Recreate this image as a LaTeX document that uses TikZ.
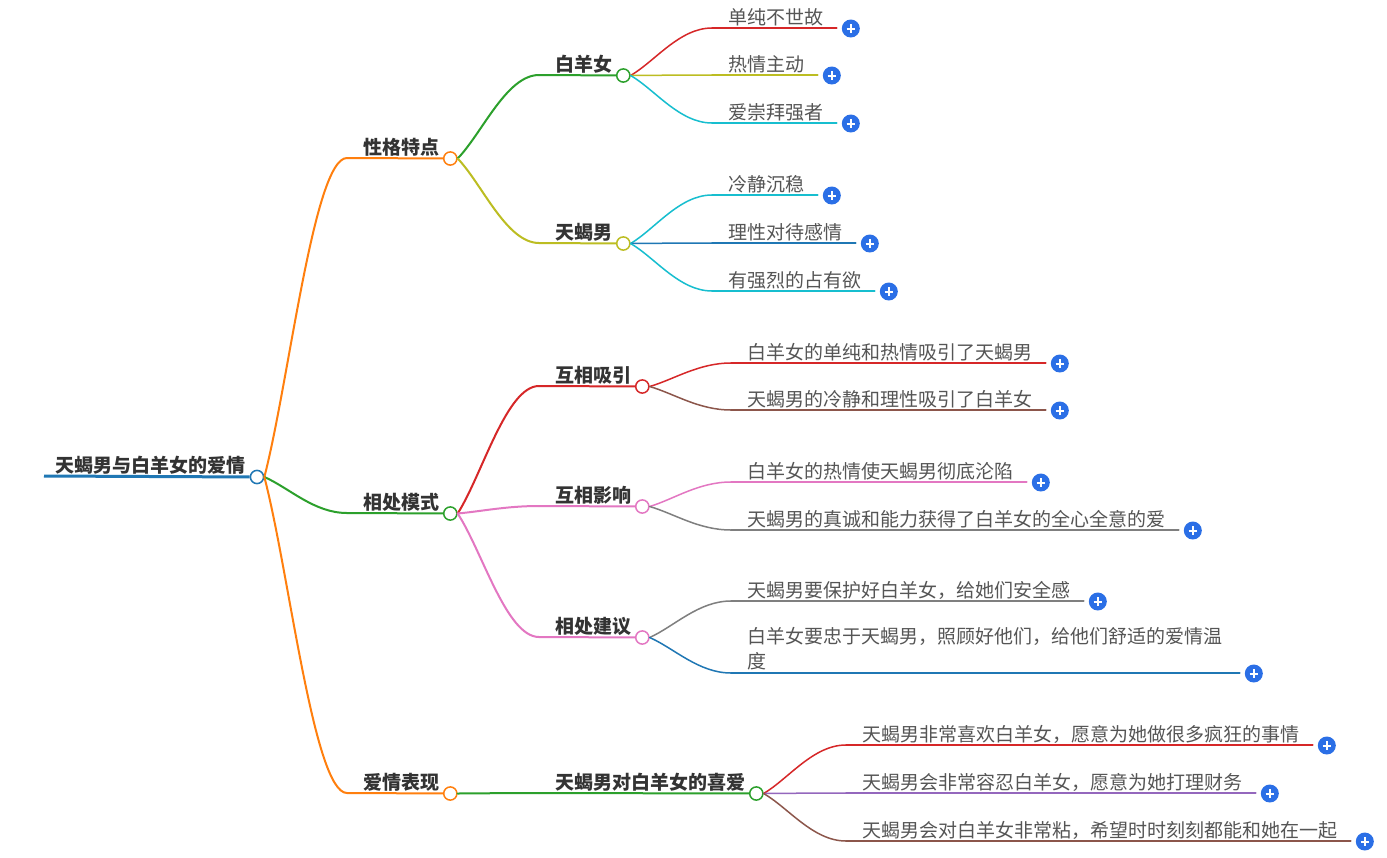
\documentclass[tikz,border=0pt]{standalone}
\usepackage{fontspec}
\setmainfont{Noto Sans CJK SC}
\usetikzlibrary{calc}
\definecolor{cblue}{HTML}{1F77B4}
\definecolor{corange}{HTML}{FF7F0E}
\definecolor{cgreen}{HTML}{2CA02C}
\definecolor{cred}{HTML}{D62728}
\definecolor{cpurple}{HTML}{9467BD}
\definecolor{cbrown}{HTML}{8C564B}
\definecolor{cpink}{HTML}{E377C2}
\definecolor{cgray}{HTML}{7F7F7F}
\definecolor{colive}{HTML}{BCBD22}
\definecolor{ccyan}{HTML}{17BECF}
\definecolor{plusblue}{HTML}{2B6FE6}
\definecolor{textdark}{HTML}{333333}
\definecolor{textgray}{HTML}{555555}
\tikzset{
  mmcurve/.style={to path={let \p1=(\tikztostart), \p2=(\tikztotarget) in
     .. controls ({\x1+0.3*(\x2-\x1)},{\y1+0.3*(\y2-\y1)}) and ({\x1+0.6*(\x2-\x1)},{\y2}) .. (\tikztotarget)}},
  conn/.style={line width=1pt, line cap=round},
  leafconn/.style={line width=0.75pt, line cap=round},
  lvtext/.style={font=\fontsize{9.5}{12}\selectfont\bfseries, text=textdark, inner sep=0pt, anchor=base west},
  leaftext/.style={font=\fontsize{9.5}{12.5}\selectfont, text=textgray, inner sep=0pt, anchor=base west, align=left},
  knob/.style={circle, fill=white, line width=0.75pt, minimum size=6.6pt, inner sep=0pt},
  plusdot/.style={circle, fill=plusblue, minimum size=9pt, inner sep=0pt},
  plusbar/.style={white, line width=1pt},
}
\newcommand\mmlevel[5]{%
  \coordinate (#2s) at (#3);
  \draw[conn,#4] (#1.east) to[mmcurve] (#2s);
  \node[lvtext] (#2t) at ($(#2s)+(16,-4)$) {#5};
  \node[knob,draw=#4] (#2) at ($(#2s -| #2t.east)+(10.5,0.5)$) {};
  \draw[conn,#4] (#2s) -- (#2);
}
\newcommand\mmleaf[5]{%
  \coordinate (#2s) at (#3);
  \draw[leafconn,#4] (#1.east) to[mmcurve] (#2s);
  \node[leaftext] (#2t) at ($(#2s)+(16,-4)$) {#5};
  \coordinate (#2e) at ($(#2s -| #2t.east)+(13,0)$);
  \draw[leafconn,#4] (#2s) -- (#2e);
  \node[plusdot] (#2p) at ($(#2e)+(14,0.5)$) {};
  \draw[plusbar] ($(#2p)+(-4.2,0)$) -- ($(#2p)+(4.2,0)$);
  \draw[plusbar] ($(#2p)+(0,-4.2)$) -- ($(#2p)+(0,4.2)$);
}
\begin{document}
\begin{tikzpicture}[x=0.5pt,y=-0.5pt]
\useasboundingbox[fill=white] (0,0) rectangle (1387,857);
% root
\coordinate (roots) at (44,476);
\node[lvtext] (roott) at (55,472) {天蝎男与白羊女的爱情};
\node[knob,draw=cblue] (root) at (257,477) {};
\draw[cblue, line width=1.5pt] (roots) -- (root);
% level 1
\mmlevel{root}{xg}{347,158}{corange}{性格特点}
\mmlevel{root}{xc}{347,513}{cgreen}{相处模式}
\mmlevel{root}{aq}{347,793}{corange}{爱情表现}
% level 2
\mmlevel{xg}{byn}{539,75}{cgreen}{白羊女}
\mmlevel{xg}{txn}{539,243}{colive}{天蝎男}
\mmlevel{xc}{xx}{539,386}{cred}{互相吸引}
\mmlevel{xc}{xy}{539,506}{cpink}{互相影响}
\mmlevel{xc}{jy}{539,637}{cpink}{相处建议}
\mmlevel{aq}{xa}{539,793}{cgreen}{天蝎男对白羊女的喜爱}
% leaves
\mmleaf{byn}{l1}{712,28}{cred}{单纯不世故}
\mmleaf{byn}{l2}{712,75}{colive}{热情主动}
\mmleaf{byn}{l3}{712,123}{ccyan}{爱崇拜强者}
\mmleaf{txn}{l4}{712,195}{ccyan}{冷静沉稳}
\mmleaf{txn}{l5}{712,243}{cblue}{理性对待感情}
\mmleaf{txn}{l6}{712,291}{ccyan}{有强烈的占有欲}
\mmleaf{xx}{l7}{731,363}{cred}{白羊女的单纯和热情吸引了天蝎男}
\mmleaf{xx}{l8}{731,410}{cbrown}{天蝎男的冷静和理性吸引了白羊女}
\mmleaf{xy}{l9}{731,482}{cpink}{白羊女的热情使天蝎男彻底沦陷}
\mmleaf{xy}{l10}{731,530}{cgray}{天蝎男的真诚和能力获得了白羊女的全心全意的爱}
\mmleaf{jy}{l11}{731,601}{cgray}{天蝎男要保护好白羊女，给她们安全感}
% multi-line leaf
\coordinate (l12s) at (731,673);
\draw[leafconn,cblue] (jy.east) to[mmcurve] (l12s);
\node[leaftext] (l12t) at ($(l12s)+(16,-5)$) {白羊女要忠于天蝎男，照顾好他们，给他们舒适的爱情温\\度};
\coordinate (l12e) at ($(l12s -| l12t.east)+(17,0)$);
\draw[leafconn,cblue] (l12s) -- (l12e);
\node[plusdot] (l12p) at ($(l12e)+(14,0.5)$) {};
\draw[plusbar] ($(l12p)+(-4.2,0)$) -- ($(l12p)+(4.2,0)$);
\draw[plusbar] ($(l12p)+(0,-4.2)$) -- ($(l12p)+(0,4.2)$);
\mmleaf{xa}{l13}{846,745}{cred}{天蝎男非常喜欢白羊女，愿意为她做很多疯狂的事情}
\mmleaf{xa}{l14}{846,793}{cpurple}{天蝎男会非常容忍白羊女，愿意为她打理财务}
\mmleaf{xa}{l15}{846,841}{cbrown}{天蝎男会对白羊女非常粘，希望时时刻刻都能和她在一起}
\end{tikzpicture}
\end{document}
